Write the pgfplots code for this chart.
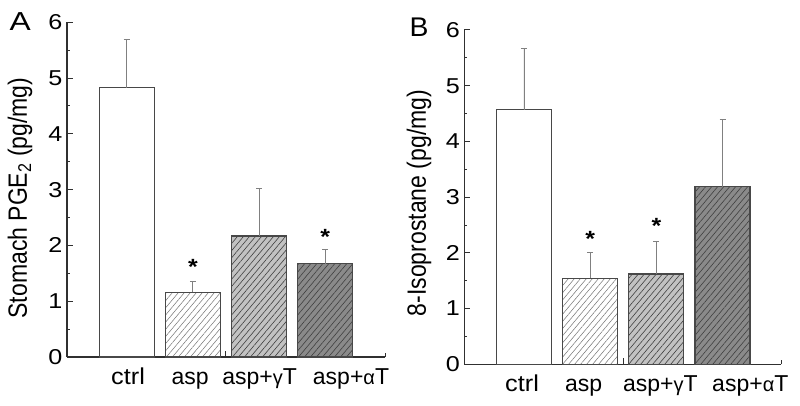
\documentclass[border=0pt]{standalone}
\usepackage{graphicx}
\usepackage{pgfplots}
\pgfplotsset{compat=1.18}
\usetikzlibrary{patterns.meta}
\usepackage{fontspec}
\setmainfont{Liberation Sans}
\definecolor{edge}{HTML}{484848}
\definecolor{axl}{HTML}{303030}
\definecolor{errc}{HTML}{808080}
\definecolor{lgray}{HTML}{C2C2C2}
\definecolor{dgray}{HTML}{8A8A8A}
\newcommand{\sx}[1]{\scalebox{1.13}[1]{#1}}
\newcommand{\sy}[1]{\scalebox{1.17}[1]{#1}}
\newcommand{\gk}[1]{{\fontsize{20bp}{22bp}\selectfont #1}}
\tikzset{sig/.style={font=\fontsize{22bp}{24bp}\selectfont\bfseries, anchor=base, yshift=-12.5bp}}
\pgfplotsset{
  panel/.style={
    scale only axis, ybar, bar width=55bp, bar shift=0pt,
    ymin=0, ymax=6,
    axis x line=bottom, axis y line=left,
    axis line style={-, color=axl, line width=1.1bp},
    ytick={0,1,2,3,4,5,6}, minor y tick num=1,
    yticklabels={\sy{0},\sy{1},\sy{2},\sy{3},\sy{4},\sy{5},\sy{6}},
    tick align=inside, major tick length=6bp, minor tick length=3bp,
    tick style={color=axl, line width=1bp},
    x tick style={draw=none},
    xticklabels={\scalebox{1.1}[1]{ctrl},asp,asp+\gk{γ}T,asp+\gk{α}T},
    xticklabel style={font=\fontsize{23bp}{24bp}\selectfont, anchor=base, yshift=-27bp},
    yticklabel style={font=\fontsize{21.5bp}{24bp}\selectfont, xshift=-1bp},
    clip=false,
    anchor=south west,
  },
  bar/.style={draw=edge, line width=1.1bp,
    error bars/y dir=plus, error bars/y explicit,
    error bars/error bar style={color=errc, line width=0.9bp},
    error bars/error mark options={rotate=90, mark size=3bp, color=errc, line width=0.9bp}},
  hatchA/.style={postaction={pattern color=black!55, pattern={Lines[angle=50,distance=4.6bp,line width=0.5bp]}}},
  hatchB/.style={postaction={pattern color=black!75, pattern={Lines[angle=50,distance=4.6bp,line width=0.6bp]}}},
}
\begin{document}
\begin{tikzpicture}[x=1bp,y=1bp]
\useasboundingbox (0,0) rectangle (800,405);
% Panel A
\begin{axis}[panel, at={(67bp,48bp)}, width=318bp, height=334.7bp, xmin=0.098, xmax=4.904,
  xtick={1.02,1.96,3.01,4.39}]
\addplot[bar, fill=white] coordinates {(1,4.83) +- (0,0.87)};
\addplot[bar, fill=white, hatchA] coordinates {(2,1.16) +- (0,0.19)};
\addplot[bar, fill=lgray, hatchB] coordinates {(3,2.17) +- (0,0.85)};
\addplot[bar, fill=dgray, hatchB] coordinates {(4,1.67) +- (0,0.25)};
\draw[axl, line width=1bp] (axis cs:2.5,0) -- (axis cs:2.5,0.11);
\draw[axl, line width=1bp] (axis cs:4.904,0) -- (axis cs:4.904,0.07);
\node[sig] at (axis cs:2,1.71) {\sx{*}};
\node[sig] at (axis cs:4,2.24) {\sx{*}};
\end{axis}
% Panel B
\begin{axis}[panel, at={(464.3bp,40.7bp)}, width=316.7bp, height=334.3bp, xmin=0.098, xmax=4.884,
  xtick={0.97,1.90,3.06,4.42}]
\addplot[bar, fill=white] coordinates {(1,4.57) +- (0,1.10)};
\addplot[bar, fill=white, hatchA] coordinates {(2,1.54) +- (0,0.46)};
\addplot[bar, fill=lgray, hatchB] coordinates {(3,1.62) +- (0,0.59)};
\addplot[bar, fill=dgray, hatchB] coordinates {(4,3.19) +- (0,1.21)};
\draw[axl, line width=1bp] (axis cs:2.5,0) -- (axis cs:2.5,0.11);
\draw[axl, line width=1bp] (axis cs:4.884,0) -- (axis cs:4.884,0.07);
\node[sig] at (axis cs:2,2.33) {\sx{*}};
\node[sig] at (axis cs:3,2.57) {\sx{*}};
\end{axis}
% Labels
\node[rotate=90, font=\fontsize{23bp}{26bp}\selectfont] at (20,207) {\scalebox{1}[1.15]{Stomach PGE\textsubscript{2} (pg/mg)}};
\node[rotate=90, font=\fontsize{23bp}{26bp}\selectfont] at (419,202) {\scalebox{1}[1.15]{8-Isoprostane (pg/mg)}};
\node[anchor=base west, inner sep=0, font=\fontsize{26bp}{26bp}\selectfont] at (9.5,375) {\scalebox{1.22}[1]{A}};
\node[anchor=base west, inner sep=0, font=\fontsize{27bp}{27bp}\selectfont] at (409.5,368.3) {\scalebox{1.05}[1]{B}};
\end{tikzpicture}
\end{document}
